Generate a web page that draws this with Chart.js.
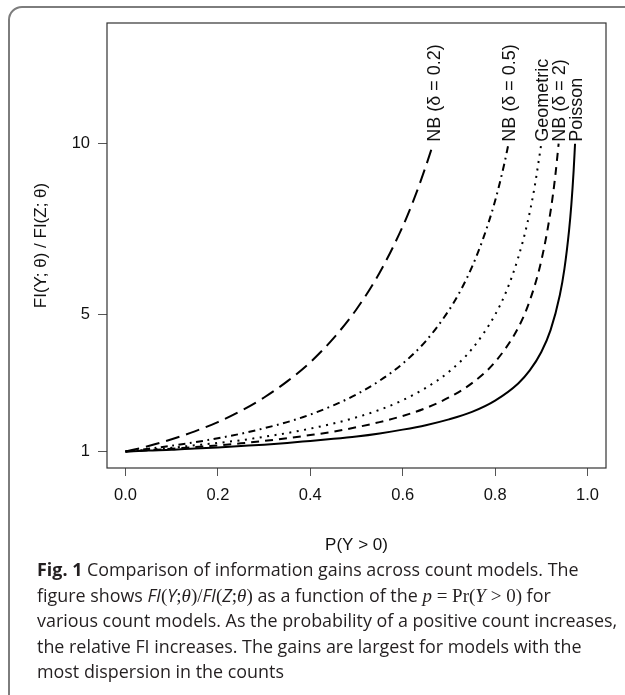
<!DOCTYPE html>
<html>
<head>
<meta charset="utf-8">
<script src="https://cdn.jsdelivr.net/npm/chart.js@4.4.1/dist/chart.umd.min.js"></script>
<style>
  html, body { margin: 0; padding: 0; background: #fff; }
  body { width: 625px; height: 695px; position: relative; overflow: hidden; }
  #marco {
    position: absolute; left: 8px; top: 6px; width: 700px; height: 800px;
    border: 2px solid #7d7d7d; border-radius: 14px; box-sizing: border-box;
  }
  #grafica { position: absolute; left: 0; top: 0; }
  #pie {
    position: absolute; left: 37px; top: 557px;
    font-family: "Open Sans", "Noto Sans", sans-serif; font-size: 17.9px;
    line-height: 25.5px; color: #231f20; white-space: nowrap;
  }
  #pie b { font-weight: 700; }
  #pie .m { font-family: "Liberation Serif", "DejaVu Serif", serif; font-size: 19px; }
  #pie i { font-style: italic; }
</style>
</head>
<body>
<div id="marco"></div>
<canvas id="grafica" width="625" height="580"></canvas>
<div id="pie">
<b>Fig. 1</b> Comparison of information gains across count models. The<br>
figure shows <i>FI</i><span class="m">(</span><i>Y</i><span class="m">;<i>θ</i>)/</span><i>FI</i><span class="m">(</span><i>Z</i><span class="m">;<i>θ</i>)</span> as a function of the <span class="m"><i>p</i> = Pr(<i>Y</i> &gt; 0)</span> for<br>
various count models. As the probability of a positive count increases,<br>
the relative FI increases. The gains are largest for models with the<br>
most dispersion in the counts
</div>
<script>
// valores: P(Y > 0) y FI(Y;θ)/FI(Z;θ)
const seriesNames = ['NB (δ = 0.2)', 'NB (δ = 0.5)', 'Geometric', 'NB (δ = 2)', 'Poisson'];

const pNB02 = [0, 0.05, 0.1, 0.15, 0.2, 0.25, 0.3, 0.35, 0.4, 0.45, 0.5, 0.55, 0.6, 0.625, 0.65, 0.666];
const yNB02 = [1, 1.16, 1.36, 1.59, 1.86, 2.19, 2.58, 3.05, 3.61, 4.31, 5.16, 6.23, 7.58, 8.40, 9.34, 10.0];

const pNB05 = [0, 0.05, 0.1, 0.15, 0.2, 0.25, 0.3, 0.35, 0.4, 0.45, 0.5, 0.55, 0.6, 0.65, 0.7, 0.725, 0.75, 0.775, 0.8, 0.82, 0.829];
const yNB05 = [1, 1.08, 1.17, 1.27, 1.39, 1.52, 1.68, 1.86, 2.08, 2.35, 2.67, 3.07, 3.57, 4.23, 5.13, 5.70, 6.40, 7.26, 8.33, 9.42, 10.0];

const pGeom = [0, 0.05, 0.1, 0.15, 0.2, 0.25, 0.3, 0.35, 0.4, 0.45, 0.5, 0.55, 0.6, 0.65, 0.7, 0.75, 0.8, 0.825, 0.85, 0.87, 0.885, 0.9];
const yGeom = [1, 1.05, 1.11, 1.18, 1.25, 1.33, 1.43, 1.54, 1.67, 1.82, 2.0, 2.22, 2.5, 2.86, 3.33, 4.0, 5.0, 5.71, 6.67, 7.69, 8.70, 10.0];

const pNB2 = [0, 0.05, 0.1, 0.15, 0.2, 0.25, 0.3, 0.35, 0.4, 0.45, 0.5, 0.55, 0.6, 0.65, 0.7, 0.75, 0.8, 0.85, 0.875, 0.9, 0.92, 0.93, 0.9375];
const yNB2 = [1, 1.04, 1.08, 1.13, 1.18, 1.24, 1.31, 1.39, 1.48, 1.58, 1.71, 1.86, 2.04, 2.27, 2.58, 3.0, 3.62, 4.62, 5.41, 6.58, 8.02, 9.03, 10.0];

const pPois = [0, 0.05, 0.1, 0.15, 0.2, 0.25, 0.3, 0.35, 0.4, 0.45, 0.5, 0.55, 0.6, 0.65, 0.7, 0.75, 0.8, 0.85, 0.875, 0.9, 0.92, 0.94, 0.95, 0.96, 0.965, 0.97, 0.973];
const yPois = [1, 1.03, 1.05, 1.09, 1.12, 1.16, 1.20, 1.25, 1.31, 1.37, 1.44, 1.53, 1.64, 1.77, 1.94, 2.16, 2.49, 2.99, 3.37, 3.91, 4.55, 5.57, 6.34, 7.46, 8.22, 9.22, 10.0];

const xTicks = [0, 0.2, 0.4, 0.6, 0.8, 1.0];
const yTicks = [1, 5, 10];

function puntos(xs, ys) {
  return xs.map((x, i) => ({ x: x, y: ys[i] }));
}

document.addEventListener('DOMContentLoaded', function () {
  const canvas = document.getElementById('grafica');
  if (!canvas || typeof Chart === 'undefined') {
    console.warn('Chart.js no está cargado o falta #grafica');
    return;
  }
  const fuente = '"Liberation Sans", Arial, sans-serif';

  // marco de la zona de dibujo, como el box() de R
  const caja = {
    id: 'caja',
    afterDraw(chart) {
      const a = chart.chartArea, ctx = chart.ctx;
      ctx.save();
      ctx.strokeStyle = '#333';
      ctx.lineWidth = 1.2;
      ctx.strokeRect(a.left, a.top, a.right - a.left, a.bottom - a.top);
      ctx.restore();
    }
  };

  // etiquetas verticales al final de cada curva
  const etiquetas = {
    id: 'etiquetas',
    afterDatasetsDraw(chart) {
      const ctx = chart.ctx;
      ctx.save();
      ctx.fillStyle = '#111';
      ctx.font = '18px ' + fuente;
      ctx.textAlign = 'left';
      ctx.textBaseline = 'middle';
      chart.data.datasets.forEach((ds, i) => {
        const meta = chart.getDatasetMeta(i);
        const ultimo = meta.data[meta.data.length - 1];
        ctx.save();
        ctx.translate(ultimo.x + 1.5, ultimo.y - 2);
        ctx.rotate(-Math.PI / 2);
        ctx.fillText(ds.label, 0, 0);
        ctx.restore();
      });
      ctx.restore();
    }
  };

  const estilos = [
    { dash: [14, 7] },
    { dash: [7, 4.5, 1.8, 4.5] },
    { dash: [2, 5.5] },
    { dash: [8, 6] },
    { dash: [] }
  ];
  const datos = [
    puntos(pNB02, yNB02),
    puntos(pNB05, yNB05),
    puntos(pGeom, yGeom),
    puntos(pNB2, yNB2),
    puntos(pPois, yPois)
  ];

  new Chart(canvas.getContext('2d'), {
    type: 'line',
    data: {
      datasets: datos.map((d, i) => ({
        label: seriesNames[i],
        data: d,
        borderColor: '#000',
        borderWidth: 2,
        borderDash: estilos[i].dash,
        pointRadius: 0,
        fill: false,
        cubicInterpolationMode: 'monotone'
      }))
    },
    options: {
      responsive: false,
      animation: false,
      devicePixelRatio: 1,
      layout: { padding: { top: 23, right: 19, left: 0, bottom: 0 } },
      plugins: { legend: { display: false }, tooltip: { enabled: false } },
      scales: {
        x: {
          type: 'linear',
          min: -0.04,
          max: 1.04,
          afterFit(s) { s.height = 112; },
          afterBuildTicks(s) { s.ticks = xTicks.map(v => ({ value: v })); },
          grid: { drawOnChartArea: false, drawTicks: true, tickLength: 8, tickColor: '#555', tickWidth: 1 },
          border: { display: false },
          ticks: {
            padding: 10,
            color: '#111',
            font: { family: fuente, size: 16.5 },
            maxRotation: 0,
            callback: v => Number(v).toFixed(1)
          },
          title: {
            display: true,
            text: 'P(Y > 0)',
            color: '#111',
            font: { family: fuente, size: 17 },
            padding: { top: 0, bottom: 24 }
          }
        },
        y: {
          type: 'linear',
          min: 0.518,
          max: 13.53,
          afterFit(s) { s.width = 107; },
          afterBuildTicks(s) { s.ticks = yTicks.map(v => ({ value: v })); },
          grid: { drawOnChartArea: false, drawTicks: true, tickLength: 9, tickColor: '#555', tickWidth: 1 },
          border: { display: false },
          ticks: {
            padding: 8,
            color: '#111',
            font: { family: fuente, size: 16.5 },
            callback: v => String(v)
          },
          title: {
            display: true,
            text: 'FI(Y; θ) / FI(Z; θ)',
            color: '#111',
            font: { family: fuente, size: 17 },
            padding: { top: 31, bottom: 0 }
          }
        }
      }
    },
    plugins: [caja, etiquetas]
  });
});
</script>
</body>
</html>
